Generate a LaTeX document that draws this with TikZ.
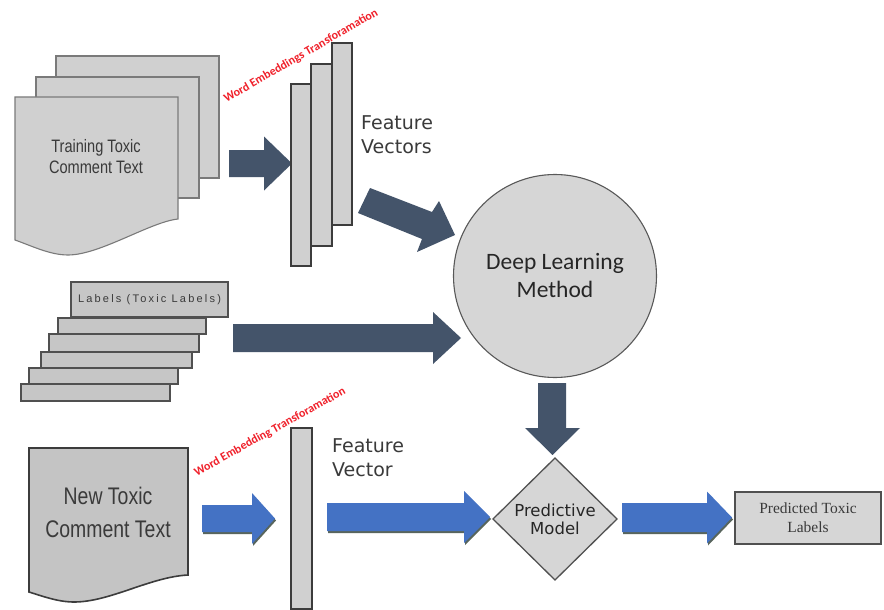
\documentclass[tikz,border=0pt]{standalone}
\usepackage{fontspec}
\setmainfont{Liberation Sans}
\newfontfamily\narrowfont[FakeStretch=0.81]{Liberation Sans}
\newfontfamily\dejafont{DejaVu Sans}
\newfontfamily\calfont{Carlito}
\newfontfamily\seriffont{Liberation Serif}
\newfontfamily\spacedfont[LetterSpace=20]{Liberation Sans}
\usetikzlibrary{calc}

\definecolor{navy}{HTML}{44546A}
\definecolor{bblue}{HTML}{4472C4}
\definecolor{sheetfill}{HTML}{D0D0D0}
\definecolor{darkfill}{HTML}{C4C4C4}
\definecolor{edgegray}{HTML}{7A7A7A}
\definecolor{edgedark}{HTML}{3C3C3C}
\definecolor{textgray}{HTML}{3A3A3A}
\definecolor{embred}{HTML}{F0202A}
\definecolor{shadowgreen}{HTML}{2F3F35}

% horizontal block arrow: colour, tail x, neck x, tip x, centre y, body half, head half
\newcommand\blockarrowh[7]{%
  \fill[#1] (#2,{#5-#6}) -- (#3,{#5-#6}) -- (#3,{#5-#7}) -- (#4,#5)
    -- (#3,{#5+#7}) -- (#3,{#5+#6}) -- (#2,{#5+#6}) -- cycle;}
% same arrow with a thin drop shadow under it
\newcommand\blockarrowhs[7]{%
  \fill[shadowgreen, opacity=0.8] ({#2+1},{#5-#6+2}) -- ({#3+1},{#5-#6+2}) -- ({#3+1},{#5-#7+2}) -- ({#4+1},{#5+2})
    -- ({#3+1},{#5+#7+2}) -- ({#3+1},{#5+#6+2}) -- ({#2+1},{#5+#6+2}) -- cycle;
  \blockarrowh{#1}{#2}{#3}{#4}{#5}{#6}{#7}}

\tikzset{
  sheet/.style={draw=edgegray, fill=sheetfill, line width=1.1pt},
  bar/.style={draw=edgedark, fill=sheetfill, line width=1.3pt},
  labelbar/.style={draw=edgedark!90, fill=sheetfill!95!black, line width=1.3pt},
  embtext/.style={text=embred, font=\calfont\bfseries\fontsize{12}{14}\selectfont, inner sep=0pt},
  featuretext/.style={text=textgray, font=\dejafont\fontsize{19}{24}\selectfont, align=left, inner sep=0pt, anchor=west},
}

\begin{document}
\begin{tikzpicture}[x=1pt, y=-1pt]
\useasboundingbox (0,0) rectangle (884,610);
\fill[white] (0,0) rectangle (884,610);

% ---- training documents ----
\draw[sheet] (56,56) rectangle (219,178);
\draw[sheet] (36,77) rectangle (199,198);
\draw[sheet] (15,97) -- (178,97) -- (178,219)
  .. controls (150,222) and (100,255) .. (68,255)
  .. controls (50,255) and (32,246) .. (15,240) -- cycle;
\node[text=textgray, font=\narrowfont\fontsize{18}{21}\selectfont, align=center] (train) at (96,157) {Training Toxic\\Comment Text};

% ---- embedding label (top) ----
\node[embtext, rotate=30] (emb1) at (301,56) {Word Embeddings Transforamation};

% ---- arrow into feature vectors ----
\blockarrowh{navy}{229}{264}{292}{163.5}{13.5}{27}

% ---- feature vector bars ----
\draw[bar] (332,43) rectangle (352,225);
\draw[bar] (311,64) rectangle (332,246);
\draw[bar] (291,84) rectangle (311,266);
\node[featuretext] (fv) at (361,135) {Feature\\Vectors};

% ---- diagonal arrow to the method ----
\fill[navy] (370,188) -- (432,212) -- (439,201) -- (455,235) -- (417,252) -- (422,239) -- (358,213) -- cycle;

% ---- deep learning method ----
\node[circle, draw=edgedark!85, fill=black!16, line width=1.1pt, minimum size=203pt, inner sep=0pt,
      text=black!85, font=\calfont\fontsize{23.5}{28}\selectfont, align=center] (dlm) at (555,276) {Deep Learning\\Method};

% ---- labels stack ----
\draw[labelbar] (21,384) rectangle (170,401);
\draw[labelbar] (29,368) rectangle (178,384);
\draw[labelbar] (41,352) rectangle (192,368);
\draw[labelbar] (49,334) rectangle (199,352);
\draw[labelbar] (58,318) rectangle (206,334);
\draw[labelbar] (71,282) rectangle (228,317);
\node[text=textgray, font=\spacedfont\fontsize{11}{13}\selectfont] (lbl) at (149.5,300) {Labels (Toxic Labels)};

% ---- labels arrow ----
\blockarrowh{navy}{233}{433}{461}{338}{14}{26}

% ---- downward arrow to predictive model ----
\fill[navy] (538,383) -- (566,383) -- (566,428) -- (580,428) -- (552.5,455) -- (525,428) -- (538,428) -- cycle;

% ---- new comment document ----
\draw[draw=edgedark, fill=darkfill, line width=1.6pt] (29,448) -- (188,448) -- (188,575)
  .. controls (150,577) and (110,602) .. (74,602)
  .. controls (58,602) and (42,596) .. (29,592) -- cycle;
\node[text=textgray, font=\narrowfont\fontsize{24}{33}\selectfont, align=center] (newc) at (108,512) {New Toxic\\Comment Text};

% ---- embedding label (bottom) ----
\node[embtext, rotate=29] (emb2) at (270,432) {Word Embedding Transforamation};

% ---- bottom arrows ----
\blockarrowhs{bblue}{202}{252}{275}{518.5}{13.5}{25.5}
\draw[bar] (291,428) rectangle (312,609);
\node[featuretext] (fv2) at (332,458) {Feature\\Vector};
\blockarrowhs{bblue}{327}{464}{490}{517}{14}{26}

% ---- predictive model ----
\draw[draw=edgedark!90, fill=black!16, line width=1.3pt] (555,458) -- (617,519) -- (555,580) -- (493,519) -- cycle;
\node[text=black!85, font=\dejafont\fontsize{16.5}{18}\selectfont, align=center] (pm) at (555,519) {Predictive\\Model};

\blockarrowhs{bblue}{622}{707}{732}{517.5}{14.5}{26}

% ---- output labels ----
\node[draw=edgedark!90, fill=black!16, line width=1.1pt, minimum width=146pt, minimum height=52pt, inner sep=0pt,
      text=textgray, font=\seriffont\fontsize{15.5}{19}\selectfont, align=center] (out) at (808,518) {Predicted Toxic\\Labels};
\end{tikzpicture}
\end{document}
